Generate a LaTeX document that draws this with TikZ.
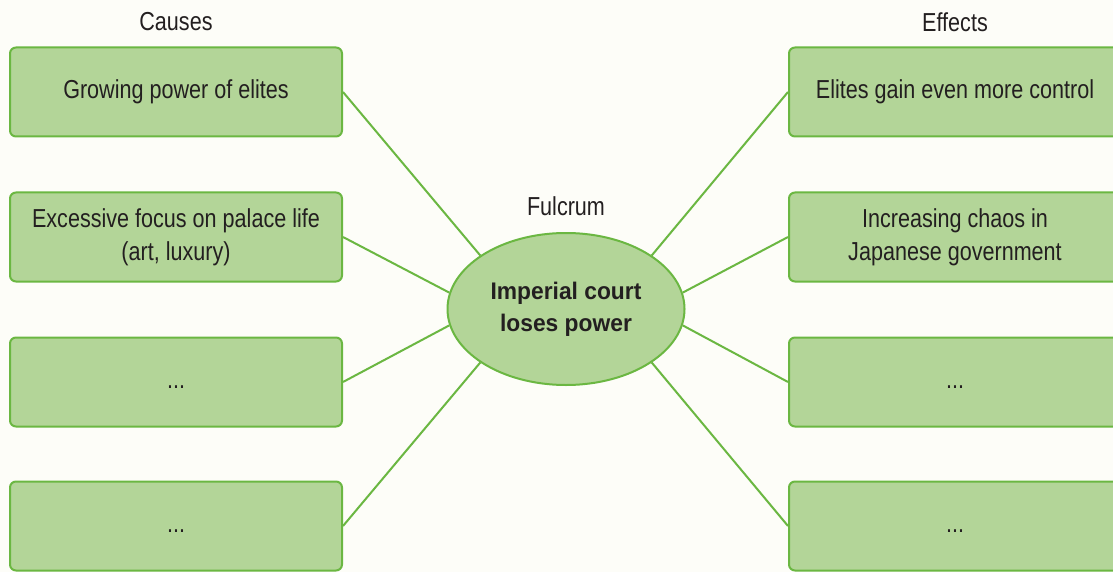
\documentclass[tikz,border=0pt]{standalone}
\usepackage{fontspec}
\setmainfont{Liberation Sans}[FakeStretch=0.83,BoldFeatures={FakeStretch=0.95}]
\usetikzlibrary{shapes.geometric}
\definecolor{boxfill}{HTML}{B3D598}
\definecolor{boxline}{HTML}{6BB742}
\definecolor{inkgray}{HTML}{231F20}
\definecolor{paper}{HTML}{FDFDF8}

\begin{document}
\begin{tikzpicture}[x=1pt,y=-1pt,
  factor/.style={draw=boxline,fill=boxfill,line width=2pt,rounded corners=6pt,
    minimum width=332pt,minimum height=89pt,inner sep=0pt,align=center,
    text=inkgray,font=\fontsize{26}{33}\selectfont},
  pivot/.style={ellipse,draw=boxline,fill=boxfill,line width=2pt,
    minimum width=237pt,minimum height=152pt,inner sep=0pt,align=center,
    text=inkgray,font=\fontsize{24}{32}\selectfont\bfseries},
  heading/.style={text=inkgray,font=\fontsize{26}{33}\selectfont},
  link/.style={boxline,line width=2pt}]
\fill[paper] (0,0) rectangle (1113,572);
\useasboundingbox (0,0) rectangle (1113,572);

% column headings
\node[heading] (causes) at (176,22) {Causes};
\node[heading] (effects) at (955,22) {Effects};
\node[heading] (fulcrumlbl) at (566,206) {Fulcrum};

% causes
\node[factor] (c1) at (176,92) {Growing power of elites};
\node[factor] (c2) at (176,237) {Excessive focus on palace life\\(art, luxury)};
\node[factor] (c3) at (176,382) {\strut...};
\node[factor] (c4) at (176,526) {\strut...};

% effects
\node[factor] (e1) at (955,92) {Elites gain even more control};
\node[factor] (e2) at (955,237) {Increasing chaos in\\Japanese government};
\node[factor] (e3) at (955,382) {\strut...};
\node[factor] (e4) at (955,526) {\strut...};

% fulcrum
\node[pivot] (hub) at (566,309) {Imperial court\\loses power};

% spokes
\draw[link] (c1.east) -- (hub.148);
\draw[link] (c2.east) -- (hub.172);
\draw[link] (c3.east) -- (hub.188);
\draw[link] (c4.east) -- (hub.212);
\draw[link] (e1.west) -- (hub.32);
\draw[link] (e2.west) -- (hub.8);
\draw[link] (e3.west) -- (hub.352);
\draw[link] (e4.west) -- (hub.328);
\end{tikzpicture}
\end{document}
